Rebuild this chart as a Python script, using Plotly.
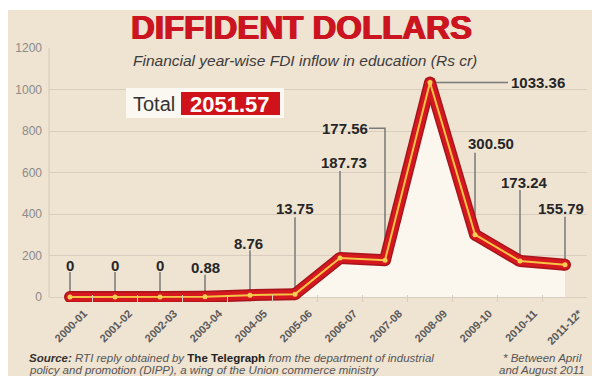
import plotly.graph_objects as go

# ---------------- data ----------------
years = ["2000-01", "2001-02", "2002-03", "2003-04", "2004-05", "2005-06",
         "2006-07", "2007-08", "2008-09", "2009-10", "2010-11", "2011-12*"]
fdi = [0, 0, 0, 0.88, 8.76, 13.75, 187.73, 177.56, 1033.36, 300.50, 173.24, 155.79]
value_labels = ["0", "0", "0", "0.88", "8.76", "13.75", "187.73", "177.56",
                "1033.36", "300.50", "173.24", "155.79"]
y_ticks = [0, 200, 400, 600, 800, 1000, 1200]

# ---------------- geometry / style ----------------
W, H = 592, 376
ML, MR, MT, MB = 49, 5, 48, 74
PW, PH = W - ML - MR, H - MT - MB
XR = [-0.4667, -0.4667 + PW / 45.0]
YR = [-24.1, 1200]

def px2x(px):
    return (px - ML) / PW

def px2y(py):
    return (H - MB - py) / PH

FONT = "Liberation Sans"
BEIGE = "#EFE3D2"
GRID = "#D8CDBE"

xs = list(range(len(years)))
total = sum(fdi)

# segmented copies (separate sub-paths, joints closed by round markers)
seg_x, seg_y = [], []
for i in range(len(xs) - 1):
    seg_x += [xs[i], xs[i + 1], None]
    seg_y += [fdi[i], fdi[i + 1], None]

fig = go.Figure()
# fill under curve
fig.add_trace(go.Scatter(x=xs, y=fdi, mode="lines", fill="tozeroy",
                         fillcolor="#FBF6EE", line=dict(width=0, color="rgba(0,0,0,0)"),
                         hoverinfo="skip", showlegend=False))
# dark outline
fig.add_trace(go.Scatter(x=seg_x, y=seg_y, mode="lines", connectgaps=False,
                         line=dict(width=12, color="#A8141B"), showlegend=False, hoverinfo="skip"))
fig.add_trace(go.Scatter(x=xs, y=fdi, mode="markers",
                         marker=dict(size=12, color="#A8141B", line=dict(width=0)),
                         showlegend=False, hoverinfo="skip"))
# red body
fig.add_trace(go.Scatter(x=seg_x, y=seg_y, mode="lines", connectgaps=False,
                         line=dict(width=9, color="#D5181F"), showlegend=False, hoverinfo="skip"))
fig.add_trace(go.Scatter(x=xs, y=fdi, mode="markers",
                         marker=dict(size=9, color="#D5181F", line=dict(width=0)),
                         showlegend=False, hoverinfo="skip"))
# yellow core
fig.add_trace(go.Scatter(x=xs, y=fdi, mode="lines+markers",
                         line=dict(width=2, color="#F6C444"),
                         marker=dict(size=5, color="#F8CF55", line=dict(width=0)),
                         showlegend=False, hoverinfo="skip"))

# ---------------- label placement (pixel offsets from each point) ----------------
label_dx = [0, 0, 0, 0, -2, 0, 4, -40, 108, 16, 4, -4]
label_dy = [32, 32, 32, 29, 52, 86, 96, 132, 0, 91, 79, 56]
leader_len = [25, 25, 25, 22, 45, 77, 87, 132, 78, 82, 71, 48]
leader_kind = ["v", "v", "v", "v", "v", "v", "v", "elbow", "h", "v", "v", "v"]

shapes = []
# page background panel
shapes.append(dict(type="rect", xref="paper", yref="paper",
                   x0=px2x(8), x1=px2x(W + 2), y0=px2y(H + 2), y1=px2y(10),
                   fillcolor=BEIGE, line=dict(width=0), layer="below"))
# left frame line
shapes.append(dict(type="line", xref="paper", yref="y", x0=0, x1=0, y0=0, y1=1200,
                   line=dict(color=GRID, width=1.2), layer="below"))

annotations = []
for i in xs:
    lc = dict(color="#7A7A7A", width=1.5)
    if leader_kind[i] == "v":
        shapes.append(dict(type="line", xref="x", yref="y", x0=xs[i], x1=xs[i],
                           ysizemode="pixel", yanchor=fdi[i], y0=0, y1=leader_len[i],
                           line=lc, layer="between"))
    elif leader_kind[i] == "h":
        shapes.append(dict(type="line", xref="x", yref="y", y0=fdi[i], y1=fdi[i],
                           xsizemode="pixel", xanchor=xs[i], x0=0, x1=leader_len[i],
                           line=lc, layer="between"))
    else:
        shapes.append(dict(type="path", xref="x", yref="y",
                           xsizemode="pixel", ysizemode="pixel",
                           xanchor=xs[i], yanchor=fdi[i],
                           path=f"M0,0 L0,{leader_len[i]} L-16,{leader_len[i]}",
                           line=lc, layer="between"))
    annotations.append(dict(x=xs[i], y=fdi[i], xref="x", yref="y",
                            xshift=label_dx[i], yshift=label_dy[i],
                            text=f"<b>{value_labels[i]}</b>", showarrow=False,
                            font=dict(family=FONT, size=15, color="#262626"),
                            xanchor="center", yanchor="middle"))

# Total box
shapes.append(dict(type="rect", xref="paper", yref="paper",
                   x0=px2x(126), x1=px2x(284), y0=px2y(118), y1=px2y(88),
                   fillcolor="#FBF8F2", line=dict(width=0), layer="above"))
shapes.append(dict(type="rect", xref="paper", yref="paper",
                   x0=px2x(181), x1=px2x(280), y0=px2y(115), y1=px2y(92),
                   fillcolor="#D0121B", line=dict(width=0), layer="above"))
annotations.append(dict(xref="paper", yref="paper", x=px2x(154), y=px2y(104),
                        text="Total", showarrow=False,
                        font=dict(family=FONT, size=20, color="#333333"),
                        xanchor="center", yanchor="middle"))
annotations.append(dict(xref="paper", yref="paper", x=px2x(230), y=px2y(104),
                        text=f"<b>{total:.2f}</b>", showarrow=False,
                        font=dict(family=FONT, size=22, color="#FFFFFF"),
                        xanchor="center", yanchor="middle"))

# Title & subtitle
annotations.append(dict(xref="paper", yref="paper", x=px2x(301), y=px2y(28),
                        text="<b>DIFFIDENT DOLLARS</b>", showarrow=False,
                        font=dict(family=FONT, size=33, color="#CC1420",
                                  shadow="0.8px 0 0 #CC1420, -0.8px 0 0 #CC1420"),
                        xanchor="center", yanchor="middle"))
annotations.append(dict(xref="paper", yref="paper", x=px2x(305), y=px2y(60),
                        text="<i>Financial year-wise FDI inflow in education (Rs cr)</i>",
                        showarrow=False, font=dict(family=FONT, size=15.5, color="#3C3C3C"),
                        xanchor="center", yanchor="middle"))

# Footer
annotations.append(dict(xref="paper", yref="paper", x=px2x(27), y=px2y(358),
                        text="<span style='color:#333'><b><i>Source:</i></b></span>"
                             "<i> RTI reply obtained by </i>"
                             "<span style='color:#222'><b>The Telegraph</b></span>"
                             "<i> from the department of industrial</i>",
                        showarrow=False, font=dict(family=FONT, size=11.5, color="#555555"),
                        xanchor="left", yanchor="middle"))
annotations.append(dict(xref="paper", yref="paper", x=px2x(27), y=px2y(370),
                        text="<i>policy and promotion (DIPP), a wing of the Union commerce ministry</i>",
                        showarrow=False, font=dict(family=FONT, size=11.5, color="#555555"),
                        xanchor="left", yanchor="middle"))
annotations.append(dict(xref="paper", yref="paper", x=px2x(542), y=px2y(358),
                        text="<i>* Between April</i>", showarrow=False,
                        font=dict(family=FONT, size=11.5, color="#555555"),
                        xanchor="center", yanchor="middle"))
annotations.append(dict(xref="paper", yref="paper", x=px2x(542), y=px2y(370),
                        text="<i>and August 2011</i>", showarrow=False,
                        font=dict(family=FONT, size=11.5, color="#555555"),
                        xanchor="center", yanchor="middle"))

fig.update_layout(
    width=W, height=H,
    margin=dict(l=ML, r=MR, t=MT, b=MB, pad=0),
    paper_bgcolor="#FFFFFF",
    plot_bgcolor="rgba(0,0,0,0)",
    font=dict(family=FONT),
    showlegend=False,
    shapes=shapes,
    annotations=annotations,
    xaxis=dict(range=XR, tickmode="array", tickvals=xs, ticktext=[f"<b>{y}</b>" for y in years],
               tickangle=-45, tickfont=dict(family=FONT, size=11, color="#5A5A5A"),
               showgrid=False, zeroline=False, showline=False, ticks="",
               ticklabelshift=14, ticklabelstandoff=2,
               minor=dict(ticks="inside", tickmode="array",
                          tickvals=[i + 0.5 for i in xs[:-1]],
                          ticklen=7, tickcolor=GRID, tickwidth=1, showgrid=False),
               fixedrange=True),
    yaxis=dict(range=YR, tickmode="array", tickvals=y_ticks,
               ticktext=[str(v) for v in y_ticks],
               tickfont=dict(family=FONT, size=12, color="#8A8A8A"),
               showgrid=True, gridcolor=GRID, gridwidth=1, zeroline=False,
               showline=False, ticks="", ticklabelstandoff=6, fixedrange=True),
)

fig.write_html("out.html")
